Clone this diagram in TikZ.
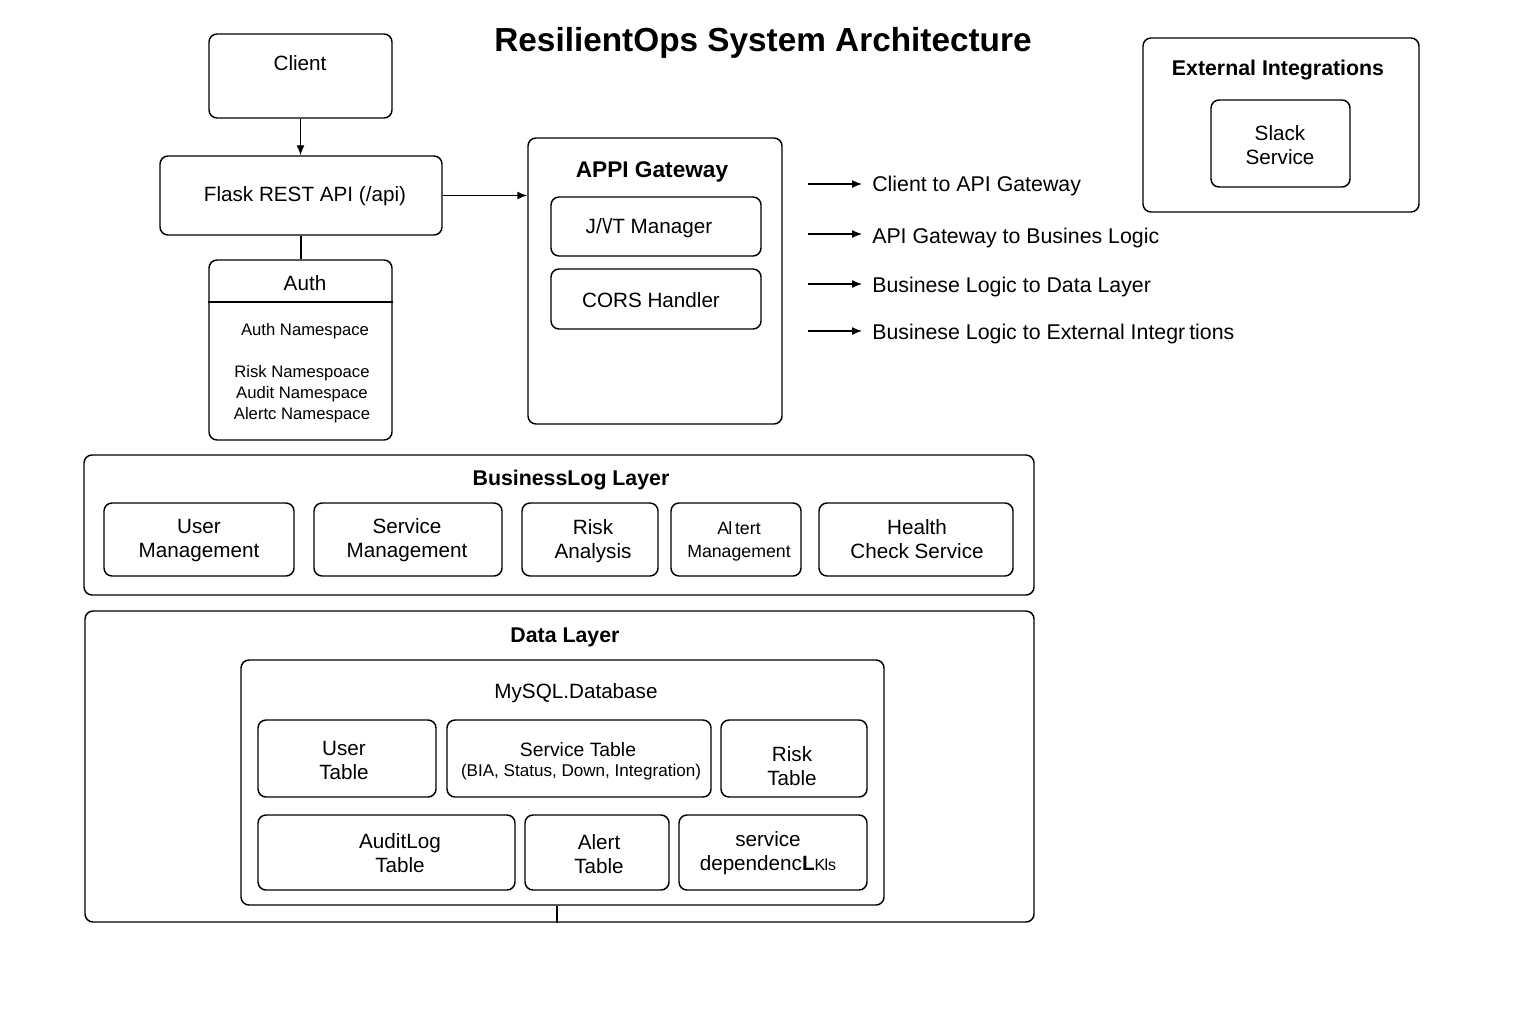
\documentclass[tikz,border=0pt]{standalone}
\usepackage{fontspec}
\setmainfont{Liberation Sans}
\usetikzlibrary{fit,arrows.meta}
\begin{document}
\begin{tikzpicture}[x=0.75pt,y=-0.75pt,
  box/.style={draw, line width=1.1pt, rounded corners=6pt, inner sep=0pt},
  txt/.style={font=\fontsize{15.5}{18}\selectfont, align=center, inner sep=0pt, yshift=-1pt},
  small/.style={font=\fontsize{12.5}{15.5}\selectfont, align=center, inner sep=0pt, yshift=-1pt},
  hdr/.style={font=\bfseries\fontsize{16}{19}\selectfont, align=center, inner sep=0pt, yshift=-1pt},
  conn/.style={line width=1pt},
  arr/.style={line width=1pt, -{Latex[length=7.5pt,width=6pt]}}]
\useasboundingbox (0,0) rectangle (1536,1024);

% title
\node[font=\bfseries\fontsize{25}{28}\selectfont, inner sep=0pt, yshift=-2.5pt] (title) at (763,40) {ResilientOps System Architecture};

% client
\node[box, fit={(209,34) (392,118)}] (client) {};
\node[txt] (clientt) at (300,62) {Client};

% flask
\node[box, fit={(160,156) (442,235)}] (flask) {};
\node[txt] (flaskt) at (305,195) {Flask REST API (/api)};

% auth
\node[box, fit={(209,260) (392,440)}] (auth) {};
\coordinate (authdiv) at (0,302);
\draw[conn] (auth.west |- authdiv) -- (auth.east |- authdiv);
\node[txt] (autht) at (305,282) {Auth};
\node[small] (ns1) at (305,330) {Auth Namespace};
\node[small] (ns2) at (302,393) {Risk Namespoace\\Audit Namespace\\Alertc Namespace};

% gateway
\node[box, fit={(528,138) (782,424)}] (gw) {};
\node[font=\bfseries\fontsize{17}{20}\selectfont, inner sep=0pt, yshift=-1pt] (gwt) at (652,171) {APPI Gateway};
\node[box, fit={(551,197) (761,256)}] (jwt) {};
\node[txt] (jwtt) at (649,227) {J/\kern0.5pt{\symbol{92}}\kern-1.2pt/T Manager};
\node[box, fit={(551,269) (761,329)}] (cors) {};
\node[txt] (corst) at (651,299) {CORS Handler};

% connectors
\draw[arr] (client.south) -- (client.south |- flask.north);
\draw[arr] (flask.east) -- (gw.west |- flask.east);
\draw[conn] (flask.south) -- (flask.south |- auth.north);

% legend
\coordinate (l1a) at (808,184); \coordinate (l1b) at (862,184);
\coordinate (l2a) at (808,234); \coordinate (l2b) at (862,234);
\coordinate (l3a) at (808,284); \coordinate (l3b) at (862,284);
\coordinate (l4a) at (808,331); \coordinate (l4b) at (862,331);
\draw[arr] (l1a) -- (l1b);
\draw[arr] (l2a) -- (l2b);
\draw[arr] (l3a) -- (l3b);
\draw[arr] (l4a) -- (l4b);
\node[txt, anchor=west, font=\fontsize{16}{19}\selectfont] (lg1) at (872,185) {Client to API Gateway};
\node[txt, anchor=west, font=\fontsize{16}{19}\selectfont] (lg2) at (872,237) {API Gateway to Busines Logic};
\node[txt, anchor=west, font=\fontsize{16}{19}\selectfont] (lg3) at (872,286) {Businese Logic to Data Layer};
\node[txt, anchor=west, font=\fontsize{16}{19}\selectfont] (lg4) at (872,333) {Businese Logic to External Integr\kern3pt tions};

% external integrations
\node[box, fit={(1143,38) (1419,212)}] (ext) {};
\node[hdr] (extt) at (1278,69) {External Integrations};
\node[box, fit={(1211,100) (1350,187)}] (slack) {};
\node[txt] (slackt) at (1280,144) {Slack\\Service};

% business logic layer
\node[box, fit={(84,455) (1034,595)}] (bl) {};
\node[hdr] (blt) at (571,479) {BusinessLog Layer};
\node[box, fit={(104,503) (294,576)}] (um) {};
\node[txt] (umt) at (199,539) {User\\Management};
\node[box, fit={(314,503) (502,576)}] (sm) {};
\node[txt] (smt) at (407,539) {Service\\Management};
\node[box, fit={(522,503) (658,576)}] (ra) {};
\node[txt] (rat) at (593,540) {Risk\\Analysis};
\node[box, fit={(671,503) (801,576)}] (am) {};
\node[small, font=\fontsize{13.3}{17}\selectfont] (amt) at (739,540) {A\kern-0.5pt l\kern2pt tert\\Management};
\node[box, fit={(819,503) (1013,576)}] (hc) {};
\node[txt] (hct) at (917,538) {Health\\Check Service};

% data layer
\node[box, fit={(85,611) (1034,922)}] (dl) {};
\node[hdr] (dlt) at (565,636) {Data Layer};
\node[box, fit={(241,660) (884,905)}] (db) {};
\node[txt] (dbt) at (576,692) {MySQL.Database};
\node[box, fit={(258,720) (436,797)}] (ut) {};
\node[txt] (utt) at (344,759) {User\\Table};
\node[box, fit={(447,720) (711,797)}] (st) {};
\node[txt, font=\fontsize{14.5}{17}\selectfont] (stt1) at (578,748) {Service Table};
\node[small, font=\fontsize{12.8}{15}\selectfont] (stt2) at (581,771) {(BIA, Status, Down, Integration)};
\node[box, fit={(721,720) (867,797)}] (rt) {};
\node[txt] (rtt) at (792,765) {Risk\\Table};
\node[box, fit={(258,815) (515,890)}] (at) {};
\node[txt] (att) at (400,852) {AuditLog\\Table};
\node[box, fit={(525,815) (669,890)}] (alt) {};
\node[txt] (altt) at (599,853) {Alert\\Table};
\node[box, fit={(679,815) (867,890)}] (sd) {};
\node[txt] (sdt) at (768,852) {service\\dependenc{\bfseries L}{\fontsize{12}{14}\selectfont K\kern-0.5pt ls}};
\draw[conn] (db.south -| 557,0) -- (dl.south -| 557,0);

\end{tikzpicture}
\end{document}
